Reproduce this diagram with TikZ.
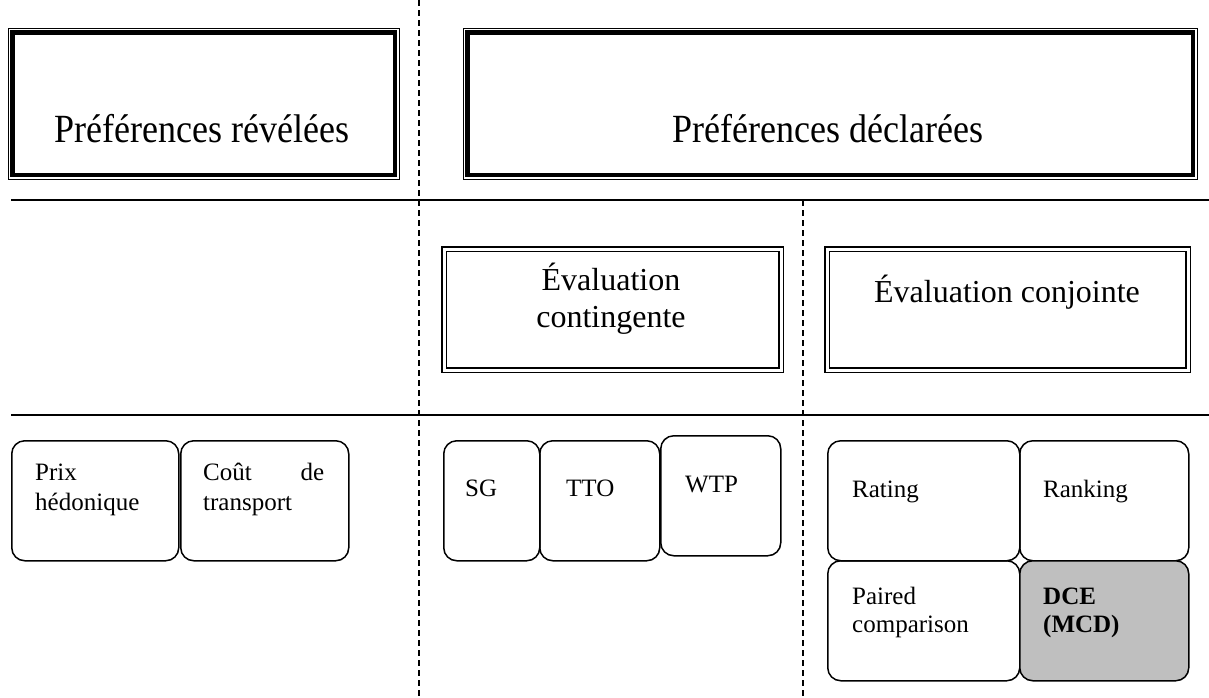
\documentclass[tikz,border=0pt]{standalone}
\usepackage{fontspec}
\setmainfont{Liberation Serif}
\newfontfamily\titlefont[FakeStretch=0.9]{Liberation Serif}
\begin{document}
\begin{tikzpicture}[x=1pt,y=-1pt,
  title/.style={font=\titlefont\fontsize{40}{48}\selectfont, inner sep=0pt},
  evtxt/.style={font=\fontsize{32}{38}\selectfont, inner sep=0pt},
  small/.style={font=\fontsize{25}{30}\selectfont, inner sep=0pt, anchor=base west},
  topbox/.style={draw, line width=0.8pt, inner sep=0pt, anchor=north west},
  evbox/.style={draw, line width=1.5pt, double, double distance=3.4pt, inner sep=0pt, anchor=north west},
  rbox/.style={draw, line width=1.5pt, rounded corners=13pt, inner sep=0pt, anchor=north west},
  sep/.style={line width=1.6pt},
  dsep/.style={line width=1.4pt, dash pattern=on 6pt off 4pt}
]
\useasboundingbox (0,0) rectangle (1209,697);

% separators
\coordinate (v1t) at (419,0);
\coordinate (v1b) at (419,697);
\coordinate (v2t) at (803,200);
\coordinate (v2b) at (803,697);
\coordinate (h1l) at (11,200);
\coordinate (h1r) at (1209,200);
\coordinate (h2l) at (11,415);
\coordinate (h2r) at (1209,415);
\draw[dsep] (v1t) -- (v1b);
\draw[dsep] (v2t) -- (v2b);
\draw[sep] (h1l) -- (h1r);
\draw[sep] (h2l) -- (h2r);

% top boxes
\node[topbox, minimum width=391pt, minimum height=151pt] (pr) at (8,28) {};
\draw[line width=4.5pt] ([shift={(4.7pt,-4.7pt)}]pr.north west) rectangle ([shift={(-4.7pt,4.7pt)}]pr.south east);
\node[title, anchor=base] (prT) at (202,142) {Préférences révélées};

\node[topbox, minimum width=734pt, minimum height=151pt] (pd) at (463,28) {};
\draw[line width=4.5pt] ([shift={(4.7pt,-4.7pt)}]pd.north west) rectangle ([shift={(-4.7pt,4.7pt)}]pd.south east);
\node[title, anchor=base] (pdT) at (828,142) {Préférences déclarées};

% evaluation boxes
\node[evbox, minimum width=337pt, minimum height=121pt] (ec) at (443.5,248.5) {};
\node[evtxt, anchor=base] (ecT1) at (611,290) {Évaluation};
\node[evtxt, anchor=base] (ecT2) at (611,327) {contingente};

\node[evbox, minimum width=361pt, minimum height=121pt] (ej) at (826.5,248.5) {};
\node[evtxt, anchor=base] (ejT) at (1007,302) {Évaluation conjointe};

% bottom boxes
\node[rbox, minimum width=167pt, minimum height=120pt] (prix) at (11,440) {};
\node[small] (prixT1) at (35,480) {Prix};
\node[small] (prixT2) at (35,510) {hédonique};

\node[rbox, minimum width=168pt, minimum height=120pt] (cout) at (180,440) {};
\node[small] (coutT1) at (203,480) {\makebox[121pt][l]{Coût\hfill de}};
\node[small] (coutT2) at (203,510) {transport};

\node[rbox, minimum width=96pt, minimum height=120pt] (sg) at (443,440) {};
\node[small] (sgT) at (465,496) {SG};
\node[rbox, minimum width=120pt, minimum height=120pt] (tto) at (539,440) {};
\node[small] (ttoT) at (566,496) {TTO};
\node[rbox, minimum width=120pt, minimum height=120pt] (wtp) at (660,435) {};
\node[small] (wtpT) at (685,492) {WTP};

\node[rbox, minimum width=192pt, minimum height=120pt] (rating) at (827,440) {};
\node[small] (ratingT) at (852,497) {Rating};
\node[rbox, minimum width=169pt, minimum height=120pt] (ranking) at (1019,440) {};
\node[small] (rankingT) at (1043,497) {Ranking};
\node[rbox, minimum width=192pt, minimum height=120pt] (paired) at (827,560) {};
\node[small] (pairedT1) at (852,604) {Paired};
\node[small] (pairedT2) at (852,632) {comparison};
\node[rbox, fill={rgb,255:red,191;green,191;blue,191}, minimum width=169pt, minimum height=120pt] (dce) at (1019,560) {};
\node[small] (dceT1) at (1043,604) {\textbf{DCE}};
\node[small] (dceT2) at (1043,632) {\textbf{(MCD)}};
\end{tikzpicture}
\end{document}
